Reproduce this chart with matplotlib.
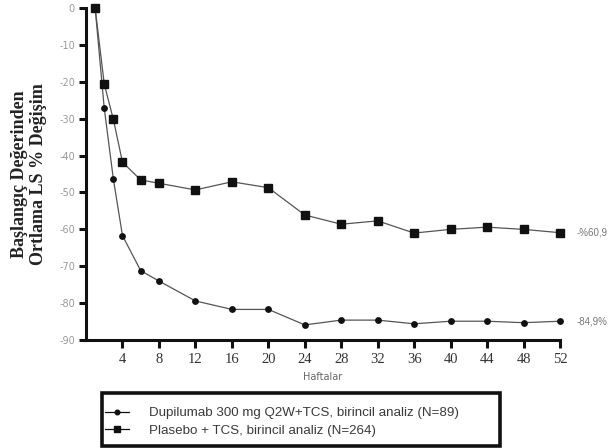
import matplotlib
matplotlib.use("Agg")
import matplotlib.pyplot as plt
from matplotlib.lines import Line2D
from matplotlib.patches import Rectangle

# weeks (baseline drawn at 1, as in the source figure)
weeks = [1, 2, 3, 4, 6, 8, 12, 16, 20, 24, 28, 32, 36, 40, 44, 48, 52]

# LS mean % change from baseline
dupilumab = [0, -27.2, -46.4, -61.7, -71.2, -74.0, -79.4, -81.7, -81.7,
             -85.9, -84.6, -84.6, -85.6, -84.9, -84.9, -85.3, -84.9]
placebo = [0, -20.6, -30.2, -41.8, -46.6, -47.5, -49.3, -47.1, -48.7,
           -56.1, -58.6, -57.7, -61.0, -60.0, -59.4, -60.0, -60.9]

xticks = [4, 8, 12, 16, 20, 24, 28, 32, 36, 40, 44, 48, 52]
yticks = [0, -10, -20, -30, -40, -50, -60, -70, -80, -90]

dup_label = "Dupilumab 300 mg Q2W+TCS, birincil analiz (N=89)"
pla_label = "Plasebo + TCS, birincil analiz (N=264)"
end_labels = ["-84,9%", "-%60,9"]

fig = plt.figure(figsize=(6.11, 4.48), dpi=100)
ax = fig.add_axes([0.1408, 0.241, 0.7757, 0.741])

line_col = "#555555"
ax.plot(weeks, dupilumab, color=line_col, lw=0.9, marker="o", ms=3.9,
        mfc="#111111", mec="#111111", clip_on=False, zorder=3)
ax.plot(weeks, placebo, color=line_col, lw=0.9, marker="s", ms=5.2,
        mfc="#111111", mec="#111111", clip_on=False, zorder=3)

ax.set_xlim(0, 52)
ax.set_ylim(-90, 0)
ax.set_xticks(xticks)
ax.set_yticks(yticks)
ax.set_yticklabels([str(v) for v in yticks])

for s in ["top", "right"]:
    ax.spines[s].set_visible(False)
for s in ["left", "bottom"]:
    ax.spines[s].set_linewidth(2.2)
    ax.spines[s].set_color("#111111")

ax.tick_params(axis="y", length=5, width=2.2, color="#111111",
               labelsize=7, labelcolor="#999999", pad=3)
ax.tick_params(axis="x", length=6, width=2.2, color="#111111",
               labelsize=10.5, labelcolor="#333333", pad=3)
for t in ax.get_xticklabels():
    t.set_family("Liberation Serif")

ax.set_xlabel("Haftalar", fontsize=7, color="#666666", labelpad=5)
ax.set_ylabel("Başlangıç Değerinden\nOrtlama LS % Değişim",
              fontsize=13, fontweight="bold", family="Liberation Serif",
              color="#222222", labelpad=9, linespacing=1.1)

for val, txt in zip([dupilumab[-1], placebo[-1]], end_labels):
    ax.annotate(txt, xy=(weeks[-1], val), xytext=(12, 0),
                textcoords="offset points", va="center", ha="left",
                fontsize=7, family="Liberation Sans", color="#777777",
                annotation_clip=False)

# legend box drawn in figure coordinates
fig.patches.append(Rectangle((0.167, 0.004), 0.651, 0.119,
                             transform=fig.transFigure, fill=False,
                             edgecolor="#111111", lw=2.6))
handles = [
    Line2D([], [], color="#111111", lw=0.9, marker="o", ms=3.3),
    Line2D([], [], color="#111111", lw=0.9, marker="s", ms=4.5),
]
leg = fig.legend(handles, [dup_label, pla_label], loc="center left",
                 bbox_to_anchor=(0.168, 0.058), frameon=False,
                 prop={"family": "Liberation Sans", "size": 9.6},
                 handlelength=1.8, handletextpad=1.5,
                 borderpad=0.2, labelspacing=0.4, borderaxespad=0)
for t in leg.get_texts():
    t.set_color("#3a3a3a")

fig.savefig("out.png", dpi=100)
